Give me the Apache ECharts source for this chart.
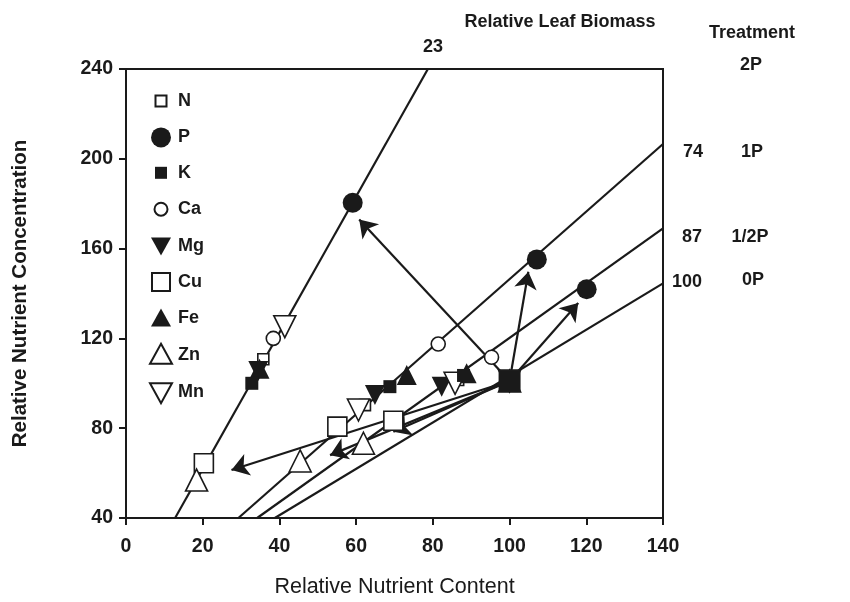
<!DOCTYPE html>
<html>
<head>
<meta charset="utf-8">
<script src="https://cdn.jsdelivr.net/npm/echarts@6/dist/echarts.min.js"></script>
<style>
  html, body { margin: 0; padding: 0; background: #fff; }
  #chart { width: 850px; height: 602px; }
</style>
</head>
<body>
<div id="chart"></div>
<script>
// treatments, in order 2P, 1P, 1/2P, 0P (reference)
var treatments = ['2P', '1P', '1/2P', '0P'];
var biomass = ['23', '74', '87', '100'];

// [relative content, relative concentration] per treatment
var nPts  = [[35.8, 110.7], [62.3, 90.3], [86.6, 101.5], [100, 101]];
var pPts  = [[59.1, 180.4], [107.1, 155.2], [120.1, 141.9], [100, 101]];
var kPts  = [[32.8, 100.0], [68.8, 98.5], [88.0, 103.5], [100, 101]];
var caPts = [[38.4, 120.0], [81.4, 117.5], [95.3, 111.6], [100, 101]];
var mgPts = [[34.5, 105.5], [64.9, 94.8], [82.3, 98.5], [100, 101]];
var cuPts = [[20.3, 64.4], [55.1, 80.7], [69.7, 83.3], [100, 101]];
var fePts = [[34.8, 106.5], [73.2, 103.7], [88.8, 104.5], [100, 101]];
var znPts = [[18.4, 56.9], [45.4, 65.4], [61.9, 73.3], [100, 101]];
var mnPts = [[41.4, 125.2], [60.6, 88.1], [85.8, 100.0], [100, 101]];

// relative leaf biomass isolines (start, end)
var isoStart = [[12.8, 40], [29.3, 40], [34.2, 40], [38.8, 40]];
var isoEnd   = [[78.7, 240], [140, 206.6], [140, 169], [140, 144.5]];

// arrows from the reference point
var arrowFrom = [100, 101];
var arrowTo = [[60.8, 173], [104.9, 149.7], [117.9, 135.8], [27.5, 61.4], [53.2, 68], [69.7, 78.4]];

var xTicks = [0, 140, 20];
var yTicks = [40, 240, 40];

var ink = '#1a1a1a';
var font = '"Liberation Sans", Arial, sans-serif';

// legend icons padded into a 24x24 box so they keep their own size
function pad(p) { return 'path://M0,0M24,24' + p; }
var nutrients = [
  { name: 'N',  pts: nPts,  sym: 'rect',     size: 11, open: true,  icon: pad('M6.5,6.5h11v11h-11z') },
  { name: 'P',  pts: pPts,  sym: 'circle',   size: 20, open: false, icon: pad('M2,12a10,10 0 1,0 20,0a10,10 0 1,0 -20,0z') },
  { name: 'K',  pts: kPts,  sym: 'rect',     size: 13, open: false, icon: pad('M6,6h12v12h-12z'), z: 6 },
  { name: 'Ca', pts: caPts, sym: 'circle',   size: 14, open: true,  icon: pad('M5.5,12a6.5,6.5 0 1,0 13,0a6.5,6.5 0 1,0 -13,0z') },
  { name: 'Mg', pts: mgPts, sym: 'triangle', size: 20, open: false, rot: 180, icon: pad('M2,4h20l-10,18z') },
  { name: 'Cu', pts: cuPts, sym: 'rect',     size: 19, open: true,  icon: pad('M3,3h18v18h-18z') },
  { name: 'Fe', pts: fePts, sym: 'triangle', size: 20, open: false, icon: pad('M12,2l10,18h-20z') },
  { name: 'Zn', pts: znPts, sym: 'triangle', size: 22, open: true,  icon: pad('M12,1l11,20h-22z') },
  { name: 'Mn', pts: mnPts, sym: 'triangle', size: 22, open: true,  rot: 180, icon: pad('M1,3h22l-11,20z') }
];

var series = [];
isoStart.forEach(function (s, i) {
  series.push({
    type: 'line', name: 'iso' + biomass[i], data: [s, isoEnd[i]],
    symbol: 'none', lineStyle: { color: ink, width: 2.2 }, z: 2, silent: true
  });
});
series.push({
  type: 'lines', name: 'arrows', coordinateSystem: 'cartesian2d', z: 3, silent: true,
  symbol: ['none', 'arrow'], symbolSize: 17,
  lineStyle: { color: ink, width: 2.2, opacity: 1 },
  itemStyle: { color: ink },
  data: arrowTo.map(function (t) { return { coords: [arrowFrom, t] }; })
});
nutrients.forEach(function (n) {
  series.push({
    type: 'scatter', name: n.name, data: n.pts,
    symbol: n.sym, symbolRotate: n.rot || 0,
    symbolSize: n.name === 'K' ? function (v, p) { return p.dataIndex === 3 ? 22 : n.size; } : n.size,
    z: n.z || 4,
    itemStyle: { color: n.open ? '#fff' : ink, borderColor: ink, borderWidth: n.open ? 1.6 : 0, opacity: 1 }
  });
});

var graphics = [
  { t: 'Relative Leaf Biomass', x: 560, y: 22 },
  { t: 'Treatment', x: 752, y: 33 },
  { t: '23', x: 433, y: 47 },
  { t: '2P', x: 751, y: 65 },
  { t: '74', x: 693, y: 152 },
  { t: '1P', x: 752, y: 152 },
  { t: '87', x: 692, y: 237 },
  { t: '1/2P', x: 750, y: 237 },
  { t: '100', x: 687, y: 282 },
  { t: '0P', x: 753, y: 280 }
].map(function (g) {
  return {
    type: 'text', x: g.x, y: g.y, silent: true,
    style: { text: g.t, align: 'center', verticalAlign: 'middle', fill: ink,
             fontSize: 18, fontWeight: 'bold', fontFamily: font }
  };
});

var chart = echarts.init(document.getElementById('chart'));
chart.setOption({
  animation: false,
  backgroundColor: '#fff',
  grid: { left: 126, right: 187, top: 69, bottom: 84, show: true, borderColor: ink, borderWidth: 2,
          outerBoundsMode: 'none', containLabel: false },
  legend: {
    orient: 'vertical', left: 143, top: 83, itemWidth: 24, itemHeight: 24, itemGap: 11.4,
    selectedMode: false,
    data: nutrients.map(function (n) { return { name: n.name, icon: n.icon }; }),
    textStyle: { color: ink, fontSize: 18, fontWeight: 'bold', fontFamily: font }
  },
  xAxis: {
    type: 'value', min: xTicks[0], max: xTicks[1], interval: xTicks[2],
    name: 'Relative Nutrient Content', nameLocation: 'middle', nameGap: 58,
    nameTextStyle: { color: ink, fontSize: 21.5, fontFamily: font },
    axisLine: { lineStyle: { color: ink, width: 2 } },
    axisTick: { length: 7, lineStyle: { color: ink, width: 2 } },
    axisLabel: { color: ink, fontSize: 19.5, fontWeight: 'bold', fontFamily: font, margin: 19 },
    splitLine: { show: false }
  },
  yAxis: {
    type: 'value', min: yTicks[0], max: yTicks[1], interval: yTicks[2],
    name: 'Relative Nutrient Concentration', nameLocation: 'middle', nameGap: 95,
    nameTextStyle: { color: ink, fontSize: 20.5, fontWeight: 'bold', fontFamily: font },
    axisLine: { lineStyle: { color: ink, width: 2 } },
    axisTick: { length: 7, lineStyle: { color: ink, width: 2 } },
    axisLabel: { color: ink, fontSize: 19.5, fontWeight: 'bold', fontFamily: font, margin: 13 },
    splitLine: { show: false }
  },
  graphic: graphics,
  series: series
});
</script>
</body>
</html>
